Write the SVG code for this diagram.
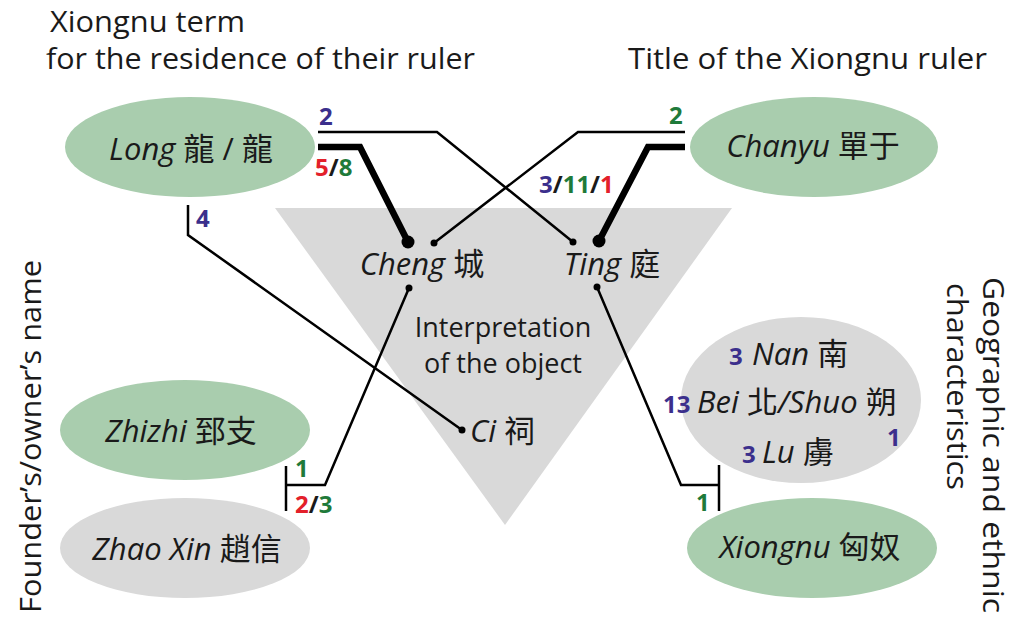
<svg xmlns="http://www.w3.org/2000/svg" width="1024" height="628" viewBox="0 0 1024 628">
<style>
text { font-family: "Open Sans", "Noto Sans CJK TC", sans-serif; fill: #1a1a1a; }
.title { font-size: 30px; }
.lbl { font-size: 31px; }
.it { font-style: italic; }
.n { font-size: 24px; font-weight: bold; }
.b { fill: #3b2f8c; }
.r { fill: #e3202a; }
.g { fill: #1f7a3a; }
.k { fill: #1a1a1a; }
.green { fill: #a9cdae; }
.grey { fill: #d9d9d9; }
.thin { stroke: #000; stroke-width: 2.5; fill: none; stroke-linejoin: miter; }
.thick { stroke: #000; stroke-width: 6.5; fill: none; stroke-linejoin: miter; }
.dot { fill: #000; }
</style>

<g id="titles">
  <text class="title" x="50" y="32" textLength="195" lengthAdjust="spacingAndGlyphs">Xiongnu term</text>
  <text class="title" x="46" y="69" textLength="429" lengthAdjust="spacingAndGlyphs">for the residence of their ruler</text>
  <text class="title" x="628" y="69" textLength="359" lengthAdjust="spacingAndGlyphs">Title of the Xiongnu ruler</text>
  <text class="title" transform="translate(41,613) rotate(-90)" textLength="353" lengthAdjust="spacingAndGlyphs">Founder’s/owner’s name</text>
  <text class="title" transform="translate(983,277) rotate(90)" textLength="336" lengthAdjust="spacingAndGlyphs">Geographic and ethnic</text>
  <text class="title" transform="translate(947,283) rotate(90)" textLength="207" lengthAdjust="spacingAndGlyphs">characteristics</text>
</g>

<g id="interpretation">
  <polygon class="grey" points="275,208 732,208 505,525"/>
  <text class="lbl" x="503" y="337" text-anchor="middle" style="font-size:27px">Interpretation</text>
  <text class="lbl" x="503" y="373" text-anchor="middle" style="font-size:27px">of the object</text>
</g>

<g id="cheng">
  <text class="lbl" x="422" y="275" text-anchor="middle"><tspan class="it">Cheng</tspan> 城</text>
</g>
<g id="ting">
  <text class="lbl" x="612" y="275" text-anchor="middle"><tspan class="it">Ting</tspan> 庭</text>
</g>
<g id="ci">
  <text class="lbl" x="470" y="442"><tspan class="it">Ci</tspan> 祠</text>
</g>

<g id="long">
  <ellipse class="green" cx="190" cy="147" rx="125" ry="50"/>
  <text class="lbl" x="191" y="160" text-anchor="middle"><tspan class="it">Long</tspan> 龍 / 龍</text>
</g>
<g id="chanyu">
  <ellipse class="green" cx="814" cy="147" rx="124" ry="50"/>
  <text class="lbl" x="813" y="157" text-anchor="middle"><tspan class="it">Chanyu</tspan> 單于</text>
</g>
<g id="zhizhi">
  <ellipse class="green" cx="185" cy="430" rx="125" ry="50"/>
  <text class="lbl" x="181" y="442" text-anchor="middle"><tspan class="it">Zhizhi</tspan> 郅支</text>
</g>
<g id="zhaoxin">
  <ellipse class="grey" cx="185" cy="548" rx="125" ry="50"/>
  <text class="lbl" x="187" y="560" text-anchor="middle"><tspan class="it">Zhao Xin</tspan> 趙信</text>
</g>
<g id="geographic">
  <ellipse class="grey" cx="801" cy="400" rx="120" ry="83"/>
  <text class="n b" x="729" y="365">3</text>
  <text class="lbl" x="752" y="365"><tspan class="it">Nan</tspan> 南</text>
  <text class="n b" x="663" y="413">13</text>
  <text class="lbl" x="697" y="413"><tspan class="it">Bei</tspan> 北<tspan class="it">/Shuo</tspan> 朔</text>
  <text class="n b" x="887" y="446">1</text>
  <text class="n b" x="742" y="463">3</text>
  <text class="lbl" x="762" y="463"><tspan class="it">Lu</tspan> 虜</text>
</g>
<g id="xiongnu">
  <ellipse class="green" cx="812" cy="548" rx="125" ry="50"/>
  <text class="lbl" x="810" y="558" text-anchor="middle"><tspan class="it">Xiongnu</tspan> 匈奴</text>
</g>

<g id="connectors">
  <polyline class="thin" points="318,132 437,132 573,242"/>
  <circle class="dot" cx="573" cy="242" r="3.5"/>
  <polyline class="thick" points="318,147 360,147 408,242"/>
  <circle class="dot" cx="408" cy="242" r="6.5"/>
  <polyline class="thin" points="685,132 578,132 434,243"/>
  <circle class="dot" cx="434" cy="243" r="3.5"/>
  <polyline class="thick" points="685,147 648,147 599,241"/>
  <circle class="dot" cx="599" cy="241" r="6.5"/>
  <polyline class="thin" points="188,205 188,235 462,430"/>
  <circle class="dot" cx="462" cy="430" r="3.5"/>
  <polyline class="thin" points="409,288 325,485 286,485"/>
  <line class="thin" x1="286" y1="466" x2="286" y2="511"/>
  <circle class="dot" cx="409" cy="288" r="3.5"/>
  <polyline class="thin" points="597,287 681,485 719,485"/>
  <line class="thin" x1="719" y1="465" x2="719" y2="511"/>
  <circle class="dot" cx="597" cy="287" r="3.5"/>

  <text class="n b" x="319" y="125">2</text>
  <text class="n" x="315" y="176"><tspan class="r">5</tspan><tspan class="k">/</tspan><tspan class="g">8</tspan></text>
  <text class="n g" x="669" y="124">2</text>
  <text class="n" x="539" y="193"><tspan class="b">3</tspan><tspan class="k">/</tspan><tspan class="g">11</tspan><tspan class="k">/</tspan><tspan class="r">1</tspan></text>
  <text class="n b" x="196" y="227">4</text>
  <text class="n g" x="295" y="477">1</text>
  <text class="n" x="295" y="513"><tspan class="r">2</tspan><tspan class="k">/</tspan><tspan class="g">3</tspan></text>
  <text class="n g" x="696" y="511">1</text>
</g>
</svg>
